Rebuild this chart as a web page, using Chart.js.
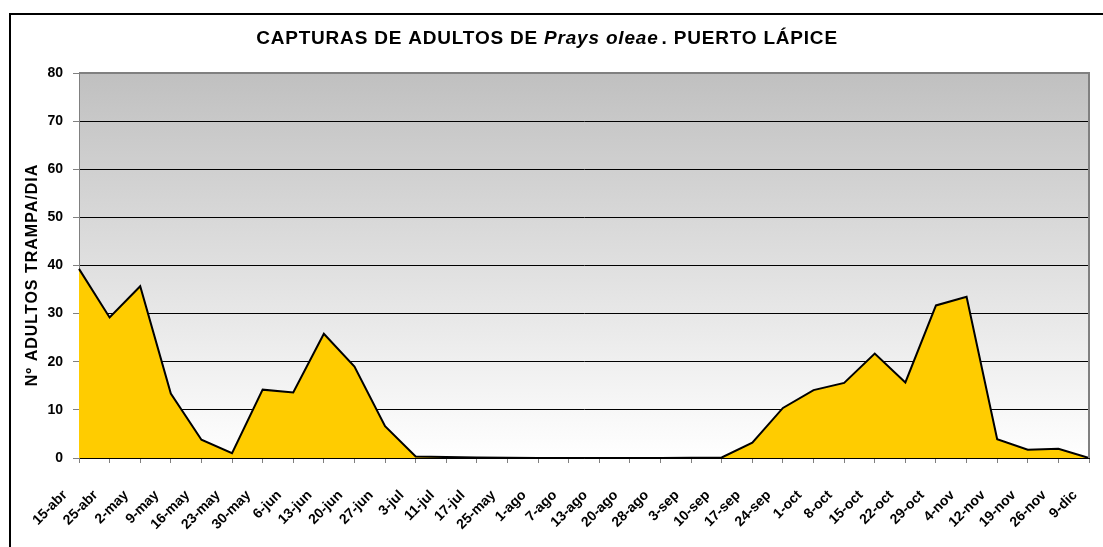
<!DOCTYPE html>
<html>
<head>
<meta charset="utf-8">
<script src="https://cdn.jsdelivr.net/npm/chart.js@4"></script>
<style>
    html, body { margin: 0; padding: 0; background: #fff; }
    #wrap { width: 1103px; height: 547px; position: relative; }
</style>
</head>
<body>
<div id="wrap"><canvas id="capturas" width="1103" height="547"></canvas></div>
<script>
var fechas = ['15-abr', '25-abr', '2-may', '9-may', '16-may', '23-may', '30-may', '6-jun', '13-jun',
    '20-jun', '27-jun', '3-jul', '11-jul', '17-jul', '25-may', '1-ago', '7-ago', '13-ago', '20-ago',
    '28-ago', '3-sep', '10-sep', '17-sep', '24-sep', '1-oct', '8-oct', '15-oct', '22-oct', '29-oct',
    '4-nov', '12-nov', '19-nov', '26-nov', '9-dic'];

var adultosDia = [39.3, 29.2, 35.7, 13.4, 3.8, 1.0, 14.2, 13.6, 25.8,
    19.0, 6.6, 0.3, 0.2, 0.1, 0.05, 0, 0, 0, 0,
    0, 0.05, 0.1, 3.2, 10.4, 14.1, 15.6, 21.7, 15.7, 31.7,
    33.5, 3.9, 1.7, 1.9, 0];

var ejeY = { min: 0, max: 80, paso: 10 };

var tituloPartes = [
    { texto: 'CAPTURAS DE ADULTOS DE ', estilo: 'bold' },
    { texto: 'Prays oleae', estilo: 'italic bold' },
    { texto: '. PUERTO LÁPICE', estilo: 'bold', hueco: 3 }
];
var tituloEje = 'Nº ADULTOS TRAMPA/DIA';

var fuente = "'Liberation Sans', Arial, sans-serif";
Chart.defaults.font.family = fuente;

// marco exterior del grafico
var marcoPlugin = {
    id: 'marco',
    afterDraw: function (chart) {
        var ctx = chart.ctx;
        ctx.save();
        ctx.strokeStyle = '#000';
        ctx.lineWidth = 2;
        ctx.strokeRect(10, 14, 1200, 600);
        ctx.restore();
    }
};

// fondo degradado del area de trazado
var fondoPlugin = {
    id: 'fondo',
    beforeDraw: function (chart) {
        var a = chart.chartArea, ctx = chart.ctx;
        var grad = ctx.createLinearGradient(0, a.top, 0, a.bottom);
        grad.addColorStop(0, '#c0c0c0');
        grad.addColorStop(1, '#ffffff');
        ctx.save();
        ctx.fillStyle = grad;
        ctx.fillRect(a.left, a.top, a.right - a.left, a.bottom - a.top);
        ctx.restore();
    },
    afterDatasetsDraw: function (chart) {
        var a = chart.chartArea, ctx = chart.ctx;
        ctx.save();
        ctx.strokeStyle = '#808080';
        ctx.lineWidth = 2;
        ctx.beginPath();
        ctx.moveTo(a.left, a.top);
        ctx.lineTo(a.right, a.top);
        ctx.lineTo(a.right, a.bottom);
        ctx.stroke();
        ctx.restore();
    }
};

// titulo con parte en cursiva y titulo del eje Y
var titulosPlugin = {
    id: 'titulos',
    afterDraw: function (chart) {
        var ctx = chart.ctx;
        ctx.save();
        ctx.fillStyle = '#000';
        ctx.textBaseline = 'alphabetic';
        ctx.textAlign = 'left';
        ctx.letterSpacing = '0.8px';
        var total = 0;
        tituloPartes.forEach(function (p) {
            ctx.font = p.estilo + ' 19px ' + fuente;
            total += ctx.measureText(p.texto).width + (p.hueco || 0);
        });
        var x = 547 - total / 2;
        tituloPartes.forEach(function (p) {
            ctx.font = p.estilo + ' 19px ' + fuente;
            x += (p.hueco || 0);
            ctx.fillText(p.texto, x, 44);
            x += ctx.measureText(p.texto).width;
        });

        ctx.letterSpacing = '1px';
        ctx.font = 'bold 16px ' + fuente;
        ctx.translate(37, 275);
        ctx.rotate(-Math.PI / 2);
        ctx.textAlign = 'center';
        ctx.fillText(tituloEje, 0, 0);
        ctx.restore();
    }
};

new Chart(document.getElementById('capturas'), {
    type: 'line',
    data: {
        labels: fechas,
        datasets: [{
            data: adultosDia,
            borderColor: '#000',
            borderWidth: 2,
            backgroundColor: '#FFCC00',
            fill: 'origin',
            pointRadius: 0,
            tension: 0
        }]
    },
    options: {
        responsive: false,
        devicePixelRatio: 1,
        animation: false,
        layout: { padding: { left: 0, top: 73, right: 14, bottom: 0 } },
        plugins: {
            legend: { display: false },
            tooltip: { enabled: false },
            title: { display: false }
        },
        scales: {
            x: {
                offset: false,
                afterFit: function (s) {
                    s.height = 89;
                    s.paddingLeft = 0;
                    s.paddingRight = 0;
                },
                grid: { drawOnChartArea: false, tickLength: 5, color: '#808080' },
                border: { color: '#000', width: 1 },
                ticks: {
                    autoSkip: false,
                    maxRotation: 45,
                    minRotation: 45,
                    padding: 24,
                    labelOffset: -14,
                    color: '#000',
                    font: { size: 14, weight: 'bold' }
                }
            },
            y: {
                min: ejeY.min,
                max: ejeY.max,
                afterFit: function (s) {
                    s.width = 79;
                    s.paddingTop = 0;
                    s.paddingBottom = 0;
                },
                grid: {
                    color: function (c) { return c.tick && c.tick.value === ejeY.max ? '#808080' : '#000'; },
                    tickColor: '#808080',
                    tickLength: 6
                },
                border: { color: '#808080', width: 1 },
                ticks: {
                    stepSize: ejeY.paso,
                    padding: 10,
                    color: '#000',
                    font: { size: 14, weight: 'bold' }
                }
            }
        }
    },
    plugins: [marcoPlugin, fondoPlugin, titulosPlugin]
});
</script>
</body>
</html>
